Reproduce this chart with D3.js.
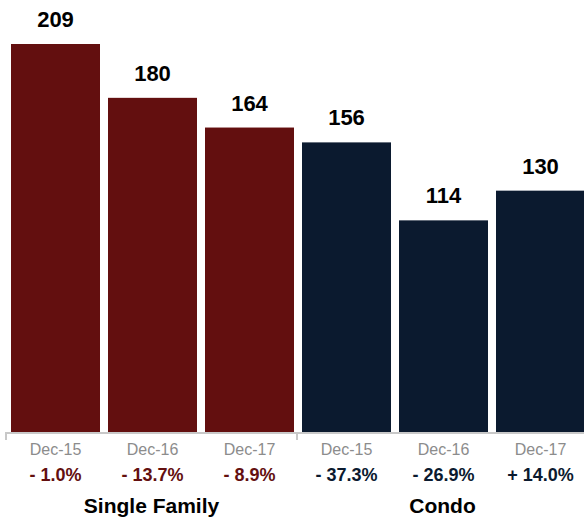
<!DOCTYPE html>
<html><head><meta charset="utf-8">
<script src="https://cdn.jsdelivr.net/npm/d3@7"></script>
<style>body{margin:0;background:#fff}svg{display:block}text{font-family:"Liberation Sans",Arial,Helvetica,sans-serif}</style>
</head><body><svg id="c" width="584" height="522"></svg>
<script>
const groups = ["Single Family", "Condo"];
const periods = ["Dec-15", "Dec-16", "Dec-17"];
const singleFamily = [209, 180, 164];
const condo = [156, 114, 130];
const sfChange = ["- 1.0%", "- 13.7%", "- 8.9%"];
const condoChange = ["- 37.3%", "- 26.9%", "+ 14.0%"];
const colors = {"Single Family": "#630f0f", "Condo": "#0b1a2f"};

const data = [];
groups.forEach((g, gi) => {
  const vals = gi === 0 ? singleFamily : condo;
  const ch = gi === 0 ? sfChange : condoChange;
  periods.forEach((p, pi) => data.push({group: g, period: p, value: vals[pi], change: ch[pi]}));
});

const svg = d3.select("#c");
const baseY = 432;
const x0 = d3.scaleBand().domain(groups).range([6, 588]).paddingInner(0).paddingOuter(0);
const x1 = d3.scaleBand().domain(periods).range([1, x0.bandwidth() + 1]).paddingInner(8/97).paddingOuter(4/97);
const y = d3.scaleLinear().domain([0, 209]).range([baseY, 44]);

svg.selectAll("rect.bar").data(data).join("rect").attr("class", "bar")
  .attr("x", d => x0(d.group) + x1(d.period))
  .attr("width", x1.bandwidth())
  .attr("y", d => y(d.value))
  .attr("height", d => baseY - y(d.value))
  .attr("fill", d => colors[d.group]);

svg.selectAll("text.val").data(data).join("text").attr("class", "val")
  .attr("x", d => x0(d.group) + x1(d.period) + x1.bandwidth()/2)
  .attr("y", d => y(d.value) - 17)
  .attr("text-anchor", "middle").attr("font-size", 22).attr("font-weight", "bold").attr("fill", "#000")
  .text(d => d.value);

// axis
const ax = svg.append("g").attr("transform", `translate(0,${baseY})`);
ax.append("line").attr("x1", 6).attr("x2", 588).attr("y1", 1).attr("y2", 1).attr("stroke", "#c8c8c8").attr("stroke-width", 2);
const bounds = [x0(groups[0]), x0(groups[1]), x0(groups[1]) + x0.bandwidth()];
ax.selectAll("line.tk").data(bounds).join("line").attr("class", "tk")
  .attr("x1", d => d).attr("x2", d => d).attr("y1", 0).attr("y2", 8)
  .attr("stroke", "#c8c8c8").attr("stroke-width", 2);

svg.selectAll("text.per").data(data).join("text").attr("class", "per")
  .attr("x", d => x0(d.group) + x1(d.period) + x1.bandwidth()/2)
  .attr("y", 455).attr("text-anchor", "middle").attr("font-size", 16).attr("fill", "#8c8c8c")
  .text(d => d.period);

svg.selectAll("text.chg").data(data).join("text").attr("class", "chg")
  .attr("x", d => x0(d.group) + x1(d.period) + x1.bandwidth()/2)
  .attr("y", 481).attr("text-anchor", "middle").attr("font-size", 18).attr("font-weight", "bold")
  .attr("fill", d => colors[d.group])
  .text(d => d.change);

svg.selectAll("text.grp").data(groups).join("text").attr("class", "grp")
  .attr("x", d => x0(d) + x0.bandwidth()/2)
  .attr("y", 513).attr("text-anchor", "middle").attr("font-size", 21).attr("font-weight", "bold").attr("fill", "#000")
  .text(d => d);
</script></body></html>
